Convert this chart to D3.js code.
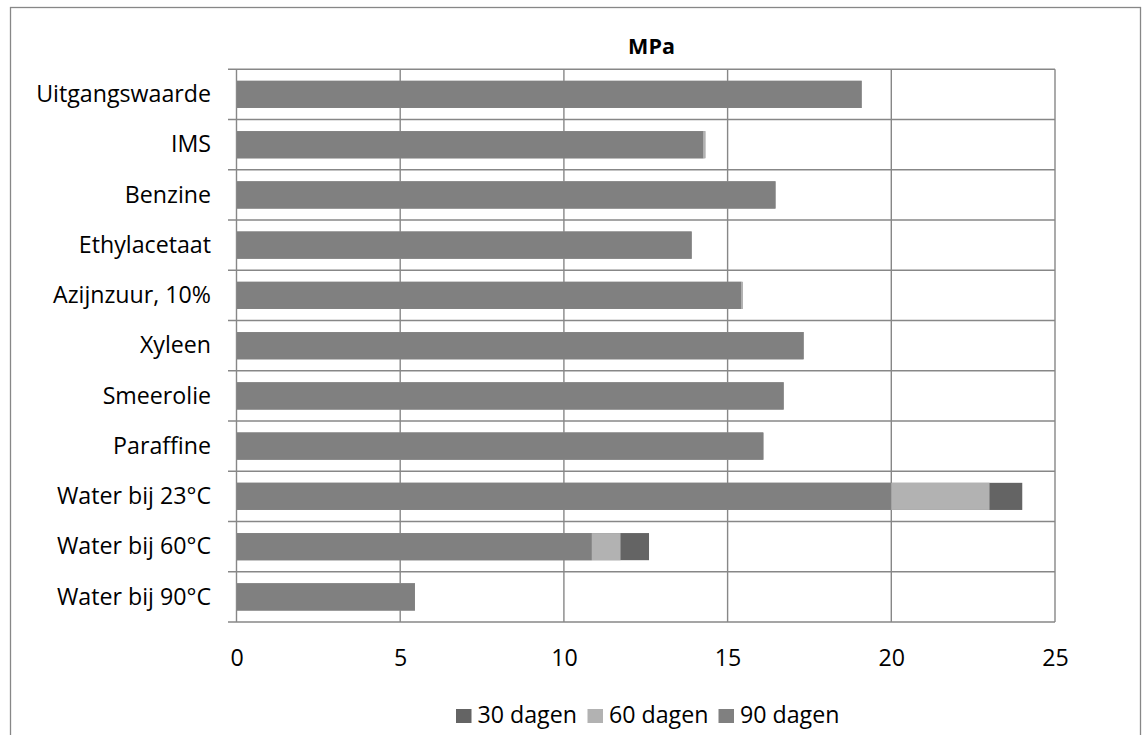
<!DOCTYPE html>
<html>
<head>
<meta charset="utf-8">
<script src="https://cdn.jsdelivr.net/npm/d3@7"></script>
<style>
    body { margin: 0; background: #fff; }
    svg text { font-family: "Open Sans", sans-serif; fill: #000; }
</style>
</head>
<body>
<svg id="chart" width="1144" height="735"></svg>
<script>
const categories = [
    "Uitgangswaarde",
    "IMS",
    "Benzine",
    "Ethylacetaat",
    "Azijnzuur, 10%",
    "Xyleen",
    "Smeerolie",
    "Paraffine",
    "Water bij 23°C",
    "Water bij 60°C",
    "Water bij 90°C",
];
const dagen30 = [19.1, 14.3, 16.46, 13.9, 15.45, 17.32, 16.71, 16.09, 24.0, 12.6, 5.45];
const dagen60 = [19.1, 14.33, 16.46, 13.9, 15.47, 17.32, 16.71, 16.09, 23.0, 11.73, 5.45];
const dagen90 = [19.09, 14.25, 16.46, 13.9, 15.41, 17.32, 16.71, 16.09, 20.0, 10.85, 5.45];
const seriesNames = ["30 dagen", "60 dagen", "90 dagen"];
const xTicks = [0, 5, 10, 15, 20, 25];
const title = "MPa";

const seriesColours = ["#646464", "#b2b2b2", "#808080"];
const gridColour = "#878787";
const fontSize = 23.2;

const svg = d3.select("#chart");

// outer chart frame (runs off the bottom like the original)
svg.append("rect")
    .attr("x", 10.5)
    .attr("y", 7.5)
    .attr("width", 1130)
    .attr("height", 760)
    .attr("fill", "none")
    .attr("stroke", gridColour)
    .attr("stroke-width", 1.3);

const x = d3.scaleLinear().domain([0, 25]).range([236.5, 1055]);
const y = d3
    .scaleBand()
    .domain(categories)
    .range([69.3, 622])
    .paddingInner(0.46)
    .paddingOuter(0.23);

const step = y.step();
const boundaries = d3.range(categories.length + 1).map((i) => y.range()[0] + i * step);

// vertical gridlines
svg.append("g")
    .selectAll("line")
    .data(xTicks)
    .join("line")
    .attr("x1", (d) => x(d))
    .attr("x2", (d) => x(d))
    .attr("y1", y.range()[0])
    .attr("y2", y.range()[1])
    .attr("stroke", gridColour)
    .attr("stroke-width", 1.4);

// horizontal gridlines at category boundaries, with small ticks to the left
svg.append("g")
    .selectAll("line")
    .data(boundaries)
    .join("line")
    .attr("x1", x(0) - 8.5)
    .attr("x2", x(25))
    .attr("y1", (d) => d)
    .attr("y2", (d) => d)
    .attr("stroke", gridColour)
    .attr("stroke-width", 1.4);

// bars overlap fully: 30 first, 90 on top
const series = [dagen30, dagen60, dagen90];
series.forEach((values, s) => {
    svg.append("g")
        .selectAll("rect")
        .data(categories.map((c, i) => ({ cat: c, value: values[i] })))
        .join("rect")
        .attr("x", x(0))
        .attr("y", (d) => y(d.cat))
        .attr("width", (d) => x(d.value) - x(0))
        .attr("height", y.bandwidth())
        .attr("fill", seriesColours[s]);
});

// category labels
const yAxis = svg.append("g")
    .attr("transform", `translate(${x(0) - 25.5},0)`)
    .call(d3.axisLeft(y).tickSize(0).tickPadding(0));
yAxis.select(".domain").remove();
yAxis.selectAll("text")
    .attr("font-size", fontSize)
    .attr("font-family", "Open Sans, sans-serif")
    .attr("dy", "0.33em");

// x tick labels
const xAxis = svg.append("g")
    .attr("transform", `translate(0,${y.range()[1]})`)
    .call(d3.axisBottom(x).tickValues(xTicks).tickSize(0).tickPadding(0));
xAxis.select(".domain").remove();
xAxis.selectAll("text")
    .attr("font-size", fontSize)
    .attr("font-family", "Open Sans, sans-serif")
    .attr("y", 43.5)
    .attr("dy", 0);

// title
svg.append("text")
    .attr("x", 651.5)
    .attr("y", 54)
    .attr("text-anchor", "middle")
    .attr("font-size", 21.5)
    .attr("font-weight", "bold")
    .text(title);

// legend
const legendX = [456, 587.5, 718.5];
const legend = svg.append("g")
    .selectAll("g")
    .data(seriesNames)
    .join("g")
    .attr("transform", (d, i) => `translate(${legendX[i]},0)`);

legend.append("rect")
    .attr("x", 0)
    .attr("y", 709)
    .attr("width", 15.5)
    .attr("height", 14)
    .attr("fill", (d, i) => seriesColours[i]);

legend.append("text")
    .attr("x", 21.5)
    .attr("y", 722.5)
    .attr("font-size", fontSize)
    .text((d) => d);
</script>
</body>
</html>
